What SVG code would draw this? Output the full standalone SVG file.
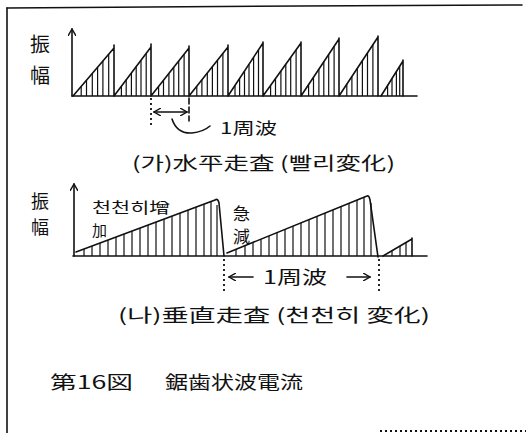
<svg xmlns="http://www.w3.org/2000/svg" width="526" height="433" viewBox="0 0 526 433">
<style>
.ln{stroke:#111;stroke-width:1.6;fill:none;stroke-linecap:round}
.ht{stroke:#111;stroke-width:1.2;fill:none}
.dot{stroke:#111;stroke-width:1.8;fill:none;stroke-dasharray:2 3}
text{font-family:"Noto Sans CJK KR","Noto Sans CJK JP",sans-serif;fill:#111}
.lb{font-size:20px}
.cp{font-size:18px}
</style>
<defs>
<marker id="ah" viewBox="0 0 8 8" refX="7" refY="4" markerWidth="8" markerHeight="8" markerUnits="userSpaceOnUse" orient="auto-start-reverse">
<path d="M0,0 L7,4 L0,8" fill="none" stroke="#111" stroke-width="1.4"/>
</marker>
</defs>
<rect width="526" height="433" fill="#fff"/>
<g id="frame">
<path class="ln" d="M7,8 L300,6 L522,5" stroke-width="2"/>
<path class="ln" d="M7,8 L7,433" stroke-width="2.4"/>
<path class="dot" d="M380,431 L526,431" stroke-dasharray="6 4"/>
</g>

<g id="chart-horizontal">
<path class="ln" d="M72,96 L417,96"/>
<path class="ln" d="M73,96 L114,48 M114,45 V96 M114,96 L151,47 M151,44 V96 M151,96 L189,48 M189,46 V96 M189,96 L228,47 M228,45 V96 M228,96 L263,43 M263,42 V96 M263,96 L301,43 M301,42 V96 M301,96 L339,39 M339,38 V96 M339,96 L378,37 M378,36 V96 M381,96 L403,61 M403,60 V96"/>
<path class="ht" d="M81.2,96V86.4M86.5,96V80.2M92.3,96V73.4M97.6,96V67.2M102.9,96V61M108.7,96V54.2
M121.4,96V86.2M126.2,96V79.8M131.4,96V73M136.2,96V66.6M141,96V60.2M146.2,96V53.4
M158.6,96V86.4M163.5,96V80.2M168.9,96V73.4M173.8,96V67.2M178.7,96V61M184.1,96V54.2
M196.8,96V86.2M201.9,96V79.8M207.3,96V73M212.4,96V66.6M217.5,96V60.2M222.9,96V53.4
M235,96V85.4M239.6,96V78.5M244.5,96V71.1M249,96V64.2M253.6,96V57.3M258.5,96V49.9
M270.6,96V85.4M275.5,96V78.5M280.9,96V71.1M285.8,96V64.2M290.7,96V57.3M296.1,96V49.9
M308.6,96V84.6M313.5,96V77.2M318.9,96V69.2M323.8,96V61.8M328.7,96V54.4M334.1,96V46.4
M346.8,96V84.2M351.9,96V76.5M357.3,96V68.3M362.4,96V60.6M367.5,96V52.9M372.9,96V44.7
M387.6,96V85.5M392,96V78.5M396.4,96V71.5M399.7,96V66.3"/>
</g>

<g id="chart-vertical">
<path class="ln" d="M73,256 L427,256"/>
<path class="ln" d="M76,252 L215,200 Q218,198 219,203 L224,256 M227,253 L367,196 Q369,195 370,200 L378,257 M383,256 L412,239 M412,238 V256"/>
<path class="ht" d="M84,256V249M92,256V246M100,256V243M108,256V240M116,256V237M124,256V234M132,256V231.1M140,256V228.1M148,256V225.1M156,256V222.1M164,256V219.1M172,256V216.1M180,256V213.1M188,256V210.1M196,256V207.1M204,256V204.1M211,256V201.5M217,256V205
M236,256V249.3M245,256V245.7M253,256V242.4M261,256V239.2M269,256V235.9M277,256V232.6M285,256V229.4M293,256V226.1M301,256V222.9M309,256V219.6M317,256V216.4M325,256V213.1M333,256V209.9M341,256V206.6M349,256V203.3M357,256V200.1M364,256V197.2M371,256V203
M392,256V250.7M400,256V246M406,256V242.5"/>
</g>

<g id="connectors">
<path class="ln" d="M72,96 V29" marker-end="url(#ah)"/>
<path class="ln" d="M74,256 V184" marker-end="url(#ah)"/>
<path class="dot" d="M151,98 V125"/>
<path class="ln" d="M189,98 V121" stroke-dasharray="6 3"/>
<path class="ln" d="M154,112 H187" marker-start="url(#ah)" marker-end="url(#ah)" stroke-width="1.3"/>
<path class="ln" d="M172,119 Q177,134 192,133 Q203,132 210,126" stroke-width="1.3"/>
<path class="dot" d="M224,259 V291"/>
<path class="dot" d="M379,259 V291"/>
<path class="ln" d="M253,277 H229" marker-end="url(#ah)" stroke-width="1.3"/>
<path class="ln" d="M347,277 H370" marker-end="url(#ah)" stroke-width="1.3"/>
</g>

<g id="labels">
<text class="lb" x="30" y="52">振</text>
<text class="lb" x="30" y="83">幅</text>
<text x="31" y="208" font-size="18">振</text>
<text x="31" y="234" font-size="18">幅</text>
<text x="220" y="134" font-size="16" textLength="57" lengthAdjust="spacingAndGlyphs">1周波</text>
<text class="cp" x="132" y="170" textLength="263" lengthAdjust="spacingAndGlyphs">(가)水平走査 (빨리変化)</text>
<text x="92" y="213" font-size="15" textLength="78" lengthAdjust="spacingAndGlyphs">천천히增</text>
<text x="92" y="236" font-size="15">加</text>
<text x="233" y="220" font-size="17">急</text>
<text x="233" y="243" font-size="17">減</text>
<text class="cp" x="263" y="284" textLength="64" lengthAdjust="spacingAndGlyphs">1周波</text>
<text class="cp" x="118" y="322" textLength="312" lengthAdjust="spacingAndGlyphs">(나)垂直走査 (천천히 変化)</text>
<text class="cp" x="50" y="389" textLength="83" lengthAdjust="spacingAndGlyphs">第16図</text>
<text class="cp" x="165" y="389" textLength="138" lengthAdjust="spacingAndGlyphs">鋸歯状波電流</text>
</g>
</svg>
